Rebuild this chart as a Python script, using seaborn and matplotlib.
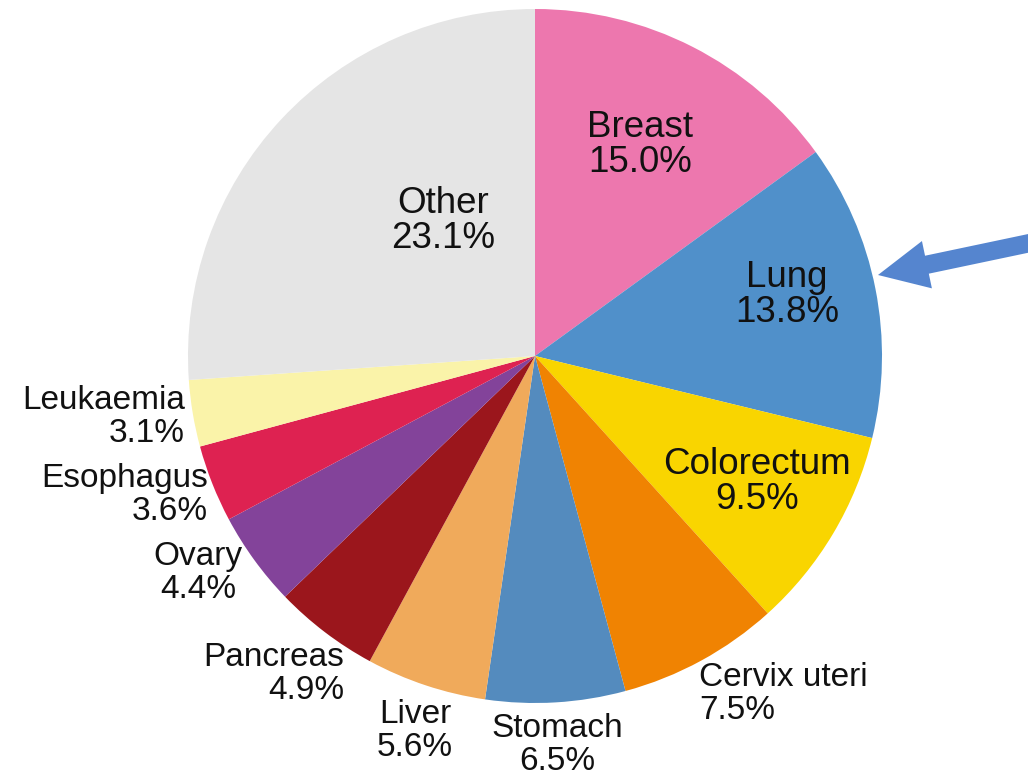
import matplotlib
matplotlib.use("Agg")
import matplotlib.pyplot as plt
import seaborn as sns

# share of new cancer cases by site (%)
sites = ["Breast", "Lung", "Colorectum", "Cervix uteri", "Stomach", "Liver",
         "Pancreas", "Ovary", "Esophagus", "Leukaemia", "Other"]
shares = [15.0, 13.8, 9.5, 7.5, 6.5, 5.6, 4.9, 4.4, 3.6, 3.1, 23.1]
site_colors = ["#ED77AE", "#5090CA", "#F9D500", "#F08302", "#548BBE", "#F0AA5B",
               "#9B161C", "#83439A", "#DE2251", "#FAF3A9", "#E5E5E5"]

# label layout in pixel coords (x, y from top, horizontal alignment, inside?)
label_pos = {
    "Breast": (640, 145, "center", True),
    "Lung": (787, 295, "center", True),
    "Colorectum": (757, 482, "center", True),
    "Cervix uteri": (699, 694, "left", False),
    "Stomach": (557, 745, "center", False),
    "Liver": (415, 731, "center", False),
    "Pancreas": (344, 674, "right", False),
    "Ovary": (198, 573, "center", False),
    "Esophagus": (208, 495, "right", False),
    "Leukaemia": (185, 417, "right", False),
    "Other": (443, 221, "center", True),
}

# slices are drawn out of 100 %, the "Other" slice fills what is left
wedge_sizes = shares[:-1] + [100 - sum(shares[:-1])]

W, H = 1028, 776
sns.set_theme(style="white")
plt.rcParams["font.family"] = ["Liberation Sans", "DejaVu Sans"]

fig = plt.figure(figsize=(W / 100, H / 100), dpi=100)
ax = fig.add_axes([0, 0, 1, 1])

ax.pie(wedge_sizes, colors=sns.color_palette(site_colors), startangle=90,
       counterclock=False, center=(535, H - 356), radius=347,
       wedgeprops=dict(linewidth=0), frame=True)
ax.set_xlim(0, W)
ax.set_ylim(0, H)
ax.set_aspect("equal")
ax.axis("off")

for name, val in zip(sites, shares):
    x, y, ha, inside = label_pos[name]
    ax.text(x, H - y, f"{name}\n{val:.1f}%", ha=ha, va="center",
            multialignment=ha, fontsize=26.5 if inside else 24,
            linespacing=1.02 if inside else 1.08, color="#111111")

# pointer arrow to the lung slice
ax.annotate("", xy=(878, H - 275), xytext=(1030, H - 243),
            arrowprops=dict(arrowstyle="simple,head_length=1.5,head_width=1.45,tail_width=0.55",
                            color="#5585CF", lw=0, shrinkA=0, shrinkB=0,
                            mutation_scale=24))

fig.savefig("out.png", dpi=100)
